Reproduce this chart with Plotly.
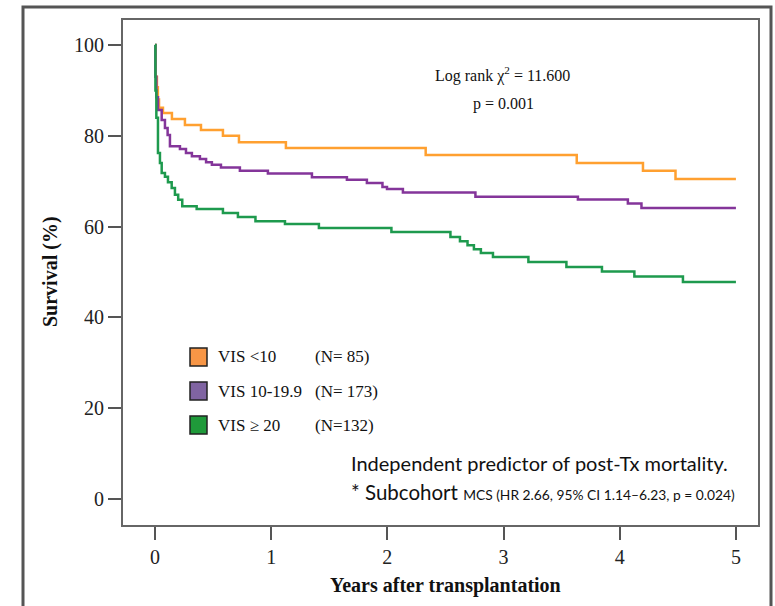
import plotly.graph_objects as go

# ---- data ----
t_low = [0, 0.006, 0.017, 0.025, 0.035, 0.069, 0.146, 0.258, 0.396, 0.585, 0.723, 1.127, 2.33, 3.63, 4.20, 4.48, 5.0]
s_low = [100, 93, 90.7, 88.0, 86.2, 85.0, 83.7, 82.4, 81.3, 80.0, 78.6, 77.3, 75.8, 74.0, 72.3, 70.5, 70.5]

t_mid = [0, 0.004, 0.012, 0.026, 0.058, 0.086, 0.109, 0.129, 0.215, 0.267, 0.318, 0.387, 0.44, 0.49, 0.568, 0.731,
         0.972, 1.351, 1.652, 1.824, 1.958, 1.997, 2.134, 2.758, 3.64, 4.07, 4.187, 5.0]
s_mid = [100, 93, 88.5, 85.7, 83.5, 81.7, 80.2, 77.7, 77.1, 76.2, 75.5, 74.9, 74.2, 73.6, 73.0, 72.3,
         71.7, 70.9, 70.3, 69.6, 68.7, 68.3, 67.5, 66.6, 66.0, 65.1, 64.1, 64.1]

t_high = [0, 0.004, 0.012, 0.026, 0.043, 0.058, 0.086, 0.112, 0.144, 0.172, 0.2, 0.235, 0.359, 0.585, 0.714, 0.865,
          1.119, 1.411, 2.035, 2.543, 2.625, 2.69, 2.745, 2.805, 2.909, 3.214, 3.541, 3.847, 4.126, 4.544, 5.0]
s_high = [100, 90, 84, 76.2, 74.0, 71.8, 71.0, 69.8, 68.5, 67.0, 65.9, 64.5, 63.9, 63.0, 62.1, 61.2,
          60.6, 59.7, 58.8, 57.7, 56.8, 55.9, 55.0, 54.2, 53.3, 52.2, 51.1, 50.1, 49.0, 47.8, 47.8]

group_labels = ["VIS <10", "VIS 10-19.9", "VIS ≥ 20"]
group_n = ["(N= 85)", "(N= 173)", "(N=132)"]
line_colors = ["#FFA030", "#84359A", "#1E9A4E"]
box_colors = ["#F79646", "#8064A2", "#1F9A3A"]

x_ticks = [0, 1, 2, 3, 4, 5]
y_ticks = [0, 20, 40, 60, 80, 100]

# ---- layout geometry (pixels) ----
W, H = 775, 606
L, R, T, B = 123, 758, 20, 525


def px(x):
    return (x - L) / (R - L)


def py(y):
    return (B - y) / (B - T)


fig = go.Figure()
for t, s, c, name in [(t_low, s_low, line_colors[0], group_labels[0]),
                      (t_mid, s_mid, line_colors[1], group_labels[1]),
                      (t_high, s_high, line_colors[2], group_labels[2])]:
    fig.add_trace(go.Scatter(x=t, y=s, mode="lines", line=dict(color=c, width=2.5, shape="hv"),
                             name=name, showlegend=False))

serif = "Liberation Serif"
axis_common = dict(showline=True, linecolor="#666666", linewidth=2, mirror=True,
                   ticks="outside", ticklen=13, tickwidth=2, tickcolor="#555555",
                   showgrid=False, zeroline=False,
                   tickfont=dict(family=serif, size=20, color="#222222"))

fig.update_layout(
    width=W, height=H,
    margin=dict(l=L, r=W - R, t=T, b=H - B),
    paper_bgcolor="white", plot_bgcolor="white",
    xaxis=dict(range=[-0.275, 5.19], tickvals=x_ticks, **axis_common),
    yaxis=dict(range=[-5.7, 105.5], tickvals=y_ticks, **axis_common),
)


def note(text, x, y, size, family=serif, xanchor="center", angle=0):
    return dict(text=text, x=px(x), y=py(y), xref="paper", yref="paper",
                xanchor=xanchor, yanchor="middle", textangle=angle, showarrow=False,
                font=dict(family=family, size=size, color="#111111"))


ann = []
# axis titles
ann.append(note("<b>Survival (%)</b>", 50, 272, 20, angle=-90))
ann.append(note("<b>Years after transplantation</b>", 445, 585, 20))
# log rank
ann.append(note("Log rank χ<sup>2</sup> = 11.600", 502, 74, 16))
ann.append(note("p = 0.001", 503, 104, 16))
# legend
leg_y = [357, 391, 425]
for i in range(3):
    fig.add_shape(type="rect", xref="paper", yref="paper",
                  x0=px(190), x1=px(207), y0=py(leg_y[i] - 9), y1=py(leg_y[i] + 9),
                  fillcolor=box_colors[i], line=dict(color="#222222", width=1.5))
    ann.append(note(group_labels[i], 216, leg_y[i], 17, xanchor="left"))
    ann.append(note(group_n[i], 313, leg_y[i], 17, xanchor="left"))
# bottom note
sans = "Lato"
ann.append(note("Independent predictor of post-Tx mortality.", 349, 463, 20, family=sans, xanchor="left"))
ann.append(note("* Subcohort <span style='font-size:13.8px'>MCS (HR 2.66, 95% CI 1.14–6.23, p = 0.024)</span>",
                349, 492, 20.5, family=sans, xanchor="left"))
fig.update_layout(annotations=ann)

# outer frame
fig.add_shape(type="rect", xref="paper", yref="paper",
              x0=px(23), x1=px(771), y0=py(620), y1=py(7),
              line=dict(color="#555555", width=3), fillcolor="rgba(0,0,0,0)", layer="below")

fig.write_html("out.html")
